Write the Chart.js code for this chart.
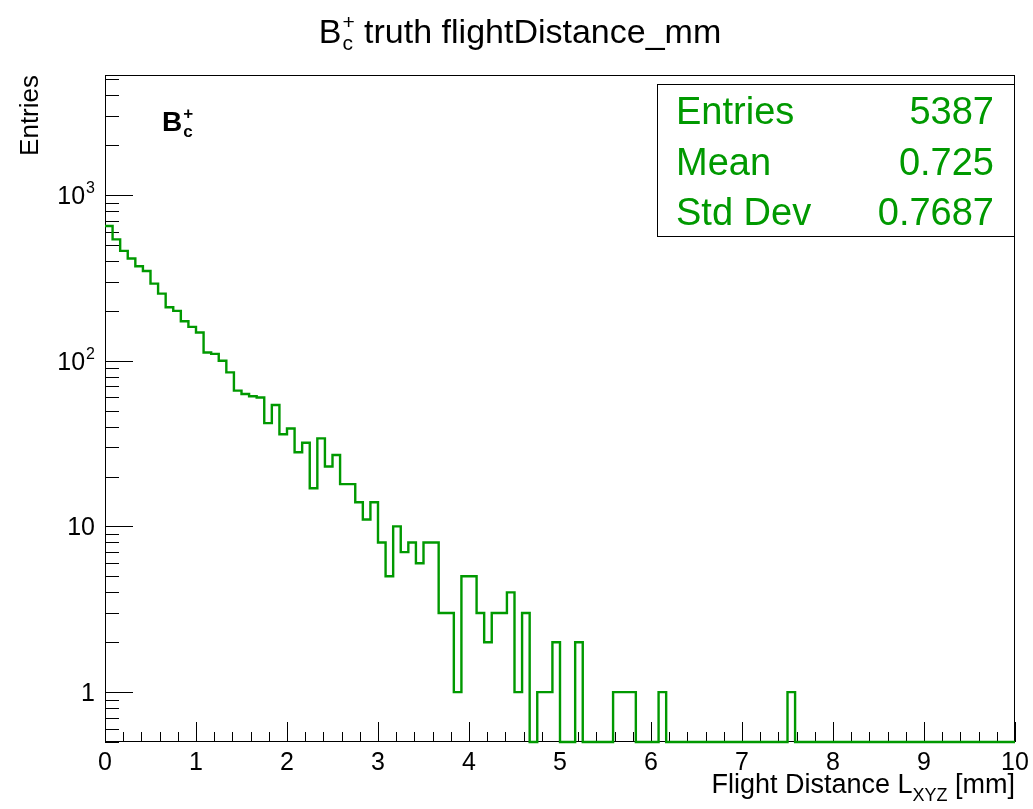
<!DOCTYPE html>
<html>
<head>
<meta charset="utf-8">
<script src="https://cdn.jsdelivr.net/npm/chart.js@4.4.1/dist/chart.umd.min.js"></script>
<style>
  html, body { margin: 0; padding: 0; background: #fff; }
  #wrap { width: 1033px; height: 809px; }
</style>
</head>
<body>
<div id="wrap"><canvas id="c" width="1033" height="809"></canvas></div>
<script>
/* B_c+ truth flight distance, ROOT-style log histogram */
var FONT = '"Liberation Sans", Arial, Helvetica, sans-serif';
var GREEN = '#009900';

// histogram definition: 120 bins over 0..10 mm
var xMin = 0;
var xMax = 10;
var nBins = 120;
var counts = [
  650, 540, 460, 414, 372, 348, 292, 254, 210, 200,
  173, 160, 148, 112, 110, 100,  85,  66,  63,  61,
   60,  42,  54,  36,  39,  28,  32,  17,  34,  23,
   27,  18,  18,  14,  11,  14,   8,   5,  10,   7,
    8,   6,   8,   8,   3,   3,   1,   5,   5,   3,
    2,   3,   3,   4,   1,   3,   0,   1,   1,   2,
    0,   0,   2,   0,   0,   0,   0,   1,   1,   1,
    0,   0,   0,   1,   0,   0,   0,   0,   0,   0,
    0,   0,   0,   0,   0,   0,   0,   0,   0,   0,
    1,   0,   0,   0,   0,   0,   0,   0,   0,   0,
    0,   0,   0,   0,   0,   0,   0,   0,   0,   0,
    0,   0,   0,   0,   0,   0,   0,   0,   0,   0
];

// axis ranges and labels
var yMin = 0.5;
var yMax = 5300;
var yMajor = [1, 10, 100, 1000];
var yMajorBase = ['1', '10', '10', '10'];
var yMajorExp = ['', '', '2', '3'];
var xMajor = [0, 1, 2, 3, 4, 5, 6, 7, 8, 9, 10];
var xLabels = ['0', '1', '2', '3', '4', '5', '6', '7', '8', '9', '10'];

// stats box
var statNames = ['Entries', 'Mean', 'Std Dev'];
var statValues = ['5387', '0.725', '0.7687'];

var binW = (xMax - xMin) / nBins;
var points = counts.map(function(c, i) {
  // empty bins sit on the lower edge, as ROOT draws them
  return { x: xMin + i * binW, y: c > 0 ? c : yMin };
});
points.push({ x: xMax, y: points[points.length - 1].y });

// draws B with subscript c and superscript +, returns width
function drawBc(ctx, x, y, size, bold) {
  var w = bold ? 'bold ' : '';
  ctx.font = w + size + 'px ' + FONT;
  ctx.textAlign = 'left';
  ctx.fillText('B', x, y);
  var bw = ctx.measureText('B').width;
  var s = Math.round(size * 0.62);
  ctx.font = w + s + 'px ' + FONT;
  ctx.fillText('+', x + bw + 1, y - size * 0.42);
  ctx.fillText('c', x + bw + 1, y + size * 0.22);
  var sw = Math.max(ctx.measureText('+').width, ctx.measureText('c').width);
  return bw + 1 + sw;
}

var rootDecor = {
  id: 'rootDecor',
  beforeDatasetsDraw: function(chart) {
    var ctx = chart.ctx, a = chart.chartArea;
    var xs = chart.scales.x, ys = chart.scales.y;
    ctx.save();
    ctx.strokeStyle = '#000';
    ctx.lineWidth = 1;
    ctx.strokeRect(a.left + 0.5, a.top + 0.5, a.right - a.left - 1, a.bottom - a.top - 1);

    ctx.beginPath();
    // x ticks: majors every 1, minors every 0.2
    for (var k = 0; k <= 50; k++) {
      var v = xMin + k * 0.2;
      var px = Math.round(xs.getPixelForValue(v)) + 0.5;
      var len = (k % 5 === 0) ? 20 : 10;
      ctx.moveTo(px, a.bottom);
      ctx.lineTo(px, a.bottom - len);
    }
    // y ticks: decades long, 2..9 short
    for (var d = 0.1; d <= 1000; d *= 10) {
      for (var m = 1; m <= 9; m++) {
        var val = d * m;
        if (val < yMin || val > yMax) continue;
        var py = Math.round(ys.getPixelForValue(val)) + 0.5;
        var l = (m === 1) ? 28 : 14;
        ctx.moveTo(a.left, py);
        ctx.lineTo(a.left + l, py);
      }
    }
    ctx.stroke();

    ctx.fillStyle = '#000';
    ctx.textBaseline = 'alphabetic';
    // x labels
    ctx.font = '25px ' + FONT;
    ctx.textAlign = 'center';
    for (var j = 0; j < xMajor.length; j++) {
      ctx.fillText(xLabels[j], xs.getPixelForValue(xMajor[j]), a.bottom + 28);
    }
    // y labels with real superscripts
    for (var i = 0; i < yMajor.length; i++) {
      var yy = ys.getPixelForValue(yMajor[i]);
      var right = a.left - 10;
      ctx.textAlign = 'right';
      if (yMajorExp[i]) {
        ctx.font = '16px ' + FONT;
        var ew = ctx.measureText(yMajorExp[i]).width;
        ctx.fillText(yMajorExp[i], right, yy - 2);
        right -= ew + 1;
      }
      ctx.font = '25px ' + FONT;
      ctx.fillText(yMajorBase[i], right, yy + 9);
    }
    ctx.restore();
  },
  afterDraw: function(chart) {
    var ctx = chart.ctx, a = chart.chartArea;
    ctx.save();
    ctx.fillStyle = '#000';
    ctx.textBaseline = 'alphabetic';

    // title
    var tSize = 34;
    ctx.font = tSize + 'px ' + FONT;
    var rest = ' truth flightDistance_mm';
    var restW = ctx.measureText(rest).width;
    var bW = ctx.measureText('B').width + 1 + ctx.measureText('+').width * 0.62;
    var tx = 520 - (bW + restW) / 2;
    var used = drawBc(ctx, tx, 43, tSize, false);
    ctx.font = tSize + 'px ' + FONT;
    ctx.fillText(rest, tx + used, 43);

    // B_c+ label inside the frame
    drawBc(ctx, 162, 131, 28, true);

    // y title
    ctx.save();
    ctx.translate(38, a.top);
    ctx.rotate(-Math.PI / 2);
    ctx.font = '26px ' + FONT;
    ctx.textAlign = 'right';
    ctx.fillText('Entries', 0, 0);
    ctx.restore();

    // x title, right aligned to the frame
    var xs = 27;
    ctx.font = xs + 'px ' + FONT;
    var p1 = 'Flight Distance L', p3 = ' [mm]';
    var w1 = ctx.measureText(p1).width, w3 = ctx.measureText(p3).width;
    ctx.font = Math.round(xs * 0.68) + 'px ' + FONT;
    var w2 = ctx.measureText('XYZ').width;
    var x0 = a.right - (w1 + w2 + w3);
    ctx.textAlign = 'left';
    ctx.font = xs + 'px ' + FONT;
    ctx.fillText(p1, x0, 793);
    ctx.fillText(p3, x0 + w1 + w2, 793);
    ctx.font = Math.round(xs * 0.68) + 'px ' + FONT;
    ctx.fillText('XYZ', x0 + w1, 793 + xs * 0.3);

    // stats box
    var bx = 657, by = 84, bw = a.right - bx, bh = 152;
    ctx.fillStyle = '#fff';
    ctx.fillRect(bx, by, bw, bh);
    ctx.strokeStyle = '#000';
    ctx.lineWidth = 1;
    ctx.strokeRect(bx + 0.5, by + 0.5, bw - 1, bh);
    ctx.fillStyle = GREEN;
    ctx.font = '38px ' + FONT;
    for (var i = 0; i < statNames.length; i++) {
      var yy = 124 + i * 50.5;
      ctx.textAlign = 'left';
      ctx.fillText(statNames[i], 676, yy);
      ctx.textAlign = 'right';
      ctx.fillText(statValues[i], a.right - 21, yy);
    }
    ctx.restore();
  }
};

var ctx = document.getElementById('c').getContext('2d');
new Chart(ctx, {
  type: 'line',
  data: {
    datasets: [{
      data: points,
      borderColor: GREEN,
      borderWidth: 2.4,
      pointRadius: 0,
      stepped: 'before',
      fill: false,
      clip: false
    }]
  },
  options: {
    responsive: false,
    animation: false,
    layout: { padding: { top: 75, right: 18, left: 0, bottom: 0 } },
    plugins: {
      legend: { display: false },
      tooltip: { enabled: false },
      title: { display: false }
    },
    scales: {
      x: {
        type: 'linear',
        min: xMin,
        max: xMax,
        grid: { display: false, drawTicks: false },
        border: { display: false },
        ticks: { display: false, stepSize: 1 },
        afterFit: function(s) { s.height = 67; }
      },
      y: {
        type: 'logarithmic',
        min: yMin,
        max: yMax,
        grid: { display: false, drawTicks: false },
        border: { display: false },
        ticks: { display: false },
        afterBuildTicks: function(s) {
          s.ticks = yMajor.map(function(v) { return { value: v }; });
        },
        afterFit: function(s) { s.width = 105; }
      }
    }
  },
  plugins: [rootDecor]
});
</script>
</body>
</html>
